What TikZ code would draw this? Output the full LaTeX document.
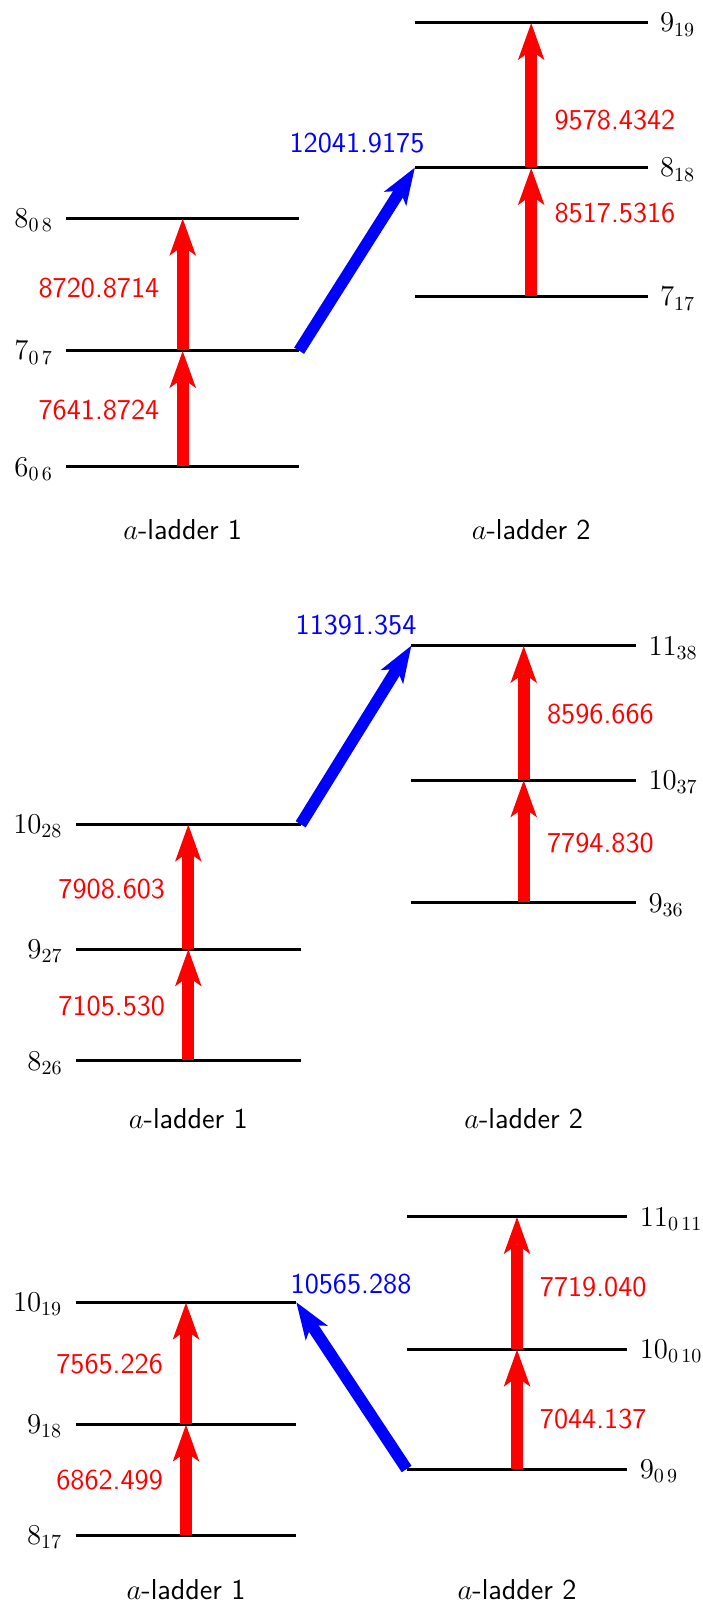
\documentclass[tikz,border=0pt]{standalone}
\usepackage{fontspec}
\usetikzlibrary{arrows.meta}

\tikzset{
  lev/.style={inner sep=0pt, minimum height=0pt, minimum width=#1},
  levline/.style={line width=1.5pt},
  trans/.style={line width=5.85pt, -{Stealth[length=18.5pt,width=13.3pt,inset=4.8pt,line width=0pt]}},
  redarr/.style={trans, draw=red, fill=red},
  bluearr/.style={trans, draw=blue, fill=blue},
  qnum/.style={inner sep=0pt, font=\fontsize{14.4}{17}\selectfont},
  freq/.style={inner sep=0pt, text=red, font=\fontsize{14.4}{17}\selectfont\sffamily},
  bfreq/.style={inner sep=0pt, text=blue, anchor=base, font=\fontsize{14.4}{17}\selectfont\sffamily},
  ladder/.style={inner sep=0pt, anchor=base, font=\fontsize{14.4}{17}\selectfont\sffamily},
}

\begin{document}
\begin{tikzpicture}[x=0.5pt,y=-0.5pt]
\useasboundingbox (0,0) rectangle (702,1604);

% first pair of ladders
\node[lev=116pt] (s606) at (182.7,466.7) {};
\node[lev=116pt] (s707) at (182.7,350.7) {};
\node[lev=116pt] (s808) at (182.7,218.3) {};
\node[lev=116pt] (s717) at (531.2,296.7) {};
\node[lev=116pt] (s818) at (531.2,167.7) {};
\node[lev=116pt] (s919) at (531.2,22.7) {};

% second pair
\node[lev=112pt] (s826) at (188.3,1060.7) {};
\node[lev=112pt] (s927) at (188.3,949) {};
\node[lev=112pt] (s1028) at (188.3,824.3) {};
\node[lev=112pt] (s936) at (523.7,902.7) {};
\node[lev=112pt] (s1037) at (523.7,780) {};
\node[lev=112pt] (s1138) at (523.7,645.7) {};

% third pair
\node[lev=110pt] (s817) at (186,1535) {};
\node[lev=110pt] (s918) at (186,1424.3) {};
\node[lev=110pt] (s1019) at (186,1302.3) {};
\node[lev=110pt] (s909) at (517,1469) {};
\node[lev=110pt] (s10010) at (517,1349.3) {};
\node[lev=110pt] (s11011) at (517,1216.7) {};

\foreach \s in {s606,s707,s808,s717,s818,s919,s826,s927,s1028,s936,s1037,s1138,s817,s918,s1019,s909,s10010,s11011}
  \draw[levline] (\s.west) -- (\s.east);

\node[qnum, anchor=base east] at ([shift={(-13,9.3)}]s606.west) {$6_{0\,6}$};
\node[qnum, anchor=base east] at ([shift={(-13,9.3)}]s707.west) {$7_{0\,7}$};
\node[qnum, anchor=base east] at ([shift={(-13,9.3)}]s808.west) {$8_{0\,8}$};
\node[qnum, anchor=base west] at ([shift={(12,9.3)}]s717.east) {$7_{17}$};
\node[qnum, anchor=base west] at ([shift={(12,9.3)}]s818.east) {$8_{18}$};
\node[qnum, anchor=base west] at ([shift={(12,9.3)}]s919.east) {$9_{19}$};
\node[qnum, anchor=base east] at ([shift={(-13,9.3)}]s826.west) {$8_{26}$};
\node[qnum, anchor=base east] at ([shift={(-13,9.3)}]s927.west) {$9_{27}$};
\node[qnum, anchor=base east] at ([shift={(-13,9.3)}]s1028.west) {$10_{28}$};
\node[qnum, anchor=base west] at ([shift={(12,9.3)}]s936.east) {$9_{36}$};
\node[qnum, anchor=base west] at ([shift={(12,9.3)}]s1037.east) {$10_{37}$};
\node[qnum, anchor=base west] at ([shift={(12,9.3)}]s1138.east) {$11_{38}$};
\node[qnum, anchor=base east] at ([shift={(-13,9.3)}]s817.west) {$8_{17}$};
\node[qnum, anchor=base east] at ([shift={(-13,9.3)}]s918.west) {$9_{18}$};
\node[qnum, anchor=base east] at ([shift={(-13,9.3)}]s1019.west) {$10_{19}$};
\node[qnum, anchor=base west] at ([shift={(12,9.3)}]s909.east) {$9_{0\,9}$};
\node[qnum, anchor=base west] at ([shift={(12,9.3)}]s10010.east) {$10_{0\,10}$};
\node[qnum, anchor=base west] at ([shift={(12,9.3)}]s11011.east) {$11_{0\,11}$};

\draw[redarr] (s606) -- (s707);
\draw[redarr] (s707) -- (s808);
\draw[redarr] (s717) -- (s818);
\draw[redarr] (s818) -- (s919);
\draw[redarr] (s826) -- (s927);
\draw[redarr] (s927) -- (s1028);
\draw[redarr] (s936) -- (s1037);
\draw[redarr] (s1037) -- (s1138);
\draw[redarr] (s817) -- (s918);
\draw[redarr] (s918) -- (s1019);
\draw[redarr] (s909) -- (s10010);
\draw[redarr] (s10010) -- (s11011);

\draw[bluearr] (s707.east) -- (s818.west);
\draw[bluearr] (s1028.east) -- (s1138.west);
\draw[bluearr] (s909.west) -- (s1019.east);

\node[freq, anchor=base east] at (159.7,297.5) {8720.8714};
\node[freq, anchor=base east] at (159.7,419.5) {7641.8724};
\node[freq, anchor=base west] at (554.2,129.5) {9578.4342};
\node[freq, anchor=base west] at (554.2,222.5) {8517.5316};
\node[bfreq] at (357,152.5) {12041.9175};

\node[freq, anchor=base east] at (165.5,898.5) {7908.603};
\node[freq, anchor=base east] at (165.5,1015.2) {7105.530};
\node[freq, anchor=base west] at (546.7,723.5) {8596.666};
\node[freq, anchor=base west] at (546.7,852.2) {7794.830};
\node[bfreq] at (356,634.5) {11391.354};

\node[freq, anchor=base east] at (163.3,1373.8) {7565.226};
\node[freq, anchor=base east] at (163.3,1489.5) {6862.499};
\node[freq, anchor=base west] at (539.5,1296.5) {7719.040};
\node[freq, anchor=base west] at (539.5,1428.5) {7044.137};
\node[bfreq] at (351,1293) {10565.288};

\node[ladder] at (182.7,539) {$a$-ladder 1};
\node[ladder] at (531.2,539) {$a$-ladder 2};
\node[ladder] at (188.3,1128.5) {$a$-ladder 1};
\node[ladder] at (523.7,1128.5) {$a$-ladder 2};
\node[ladder] at (186,1599) {$a$-ladder 1};
\node[ladder] at (517,1599) {$a$-ladder 2};
\end{tikzpicture}
\end{document}
